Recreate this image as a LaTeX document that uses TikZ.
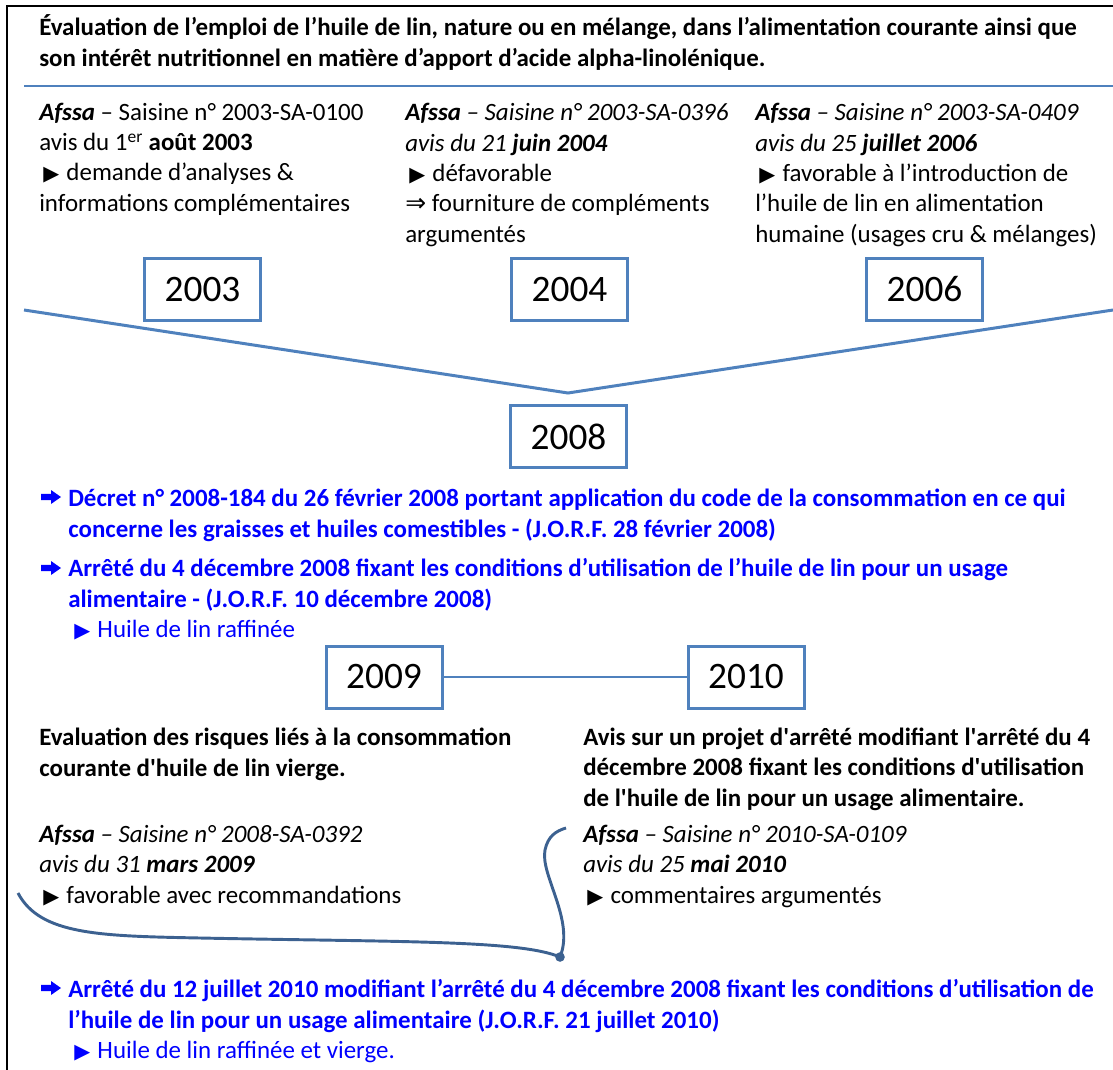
\documentclass[tikz,border=0pt]{standalone}
\usepackage{fontspec}
\setmainfont{Carlito}
\newfontfamily\symfont{DejaVu Sans}
\definecolor{boxblue}{HTML}{4F81BD}
\definecolor{bracedark}{HTML}{3C6190}
\definecolor{lawblue}{HTML}{0000FF}
\newcommand{\tri}{\kern3pt{\symfont\fontsize{15.5pt}{15pt}\selectfont ▶}\hspace{5.5pt}}
\newcommand{\sq}{\textquotesingle}

\begin{document}
\begin{tikzpicture}[
    x=0.75pt, y=-0.75pt,
    year/.style={
        rectangle,
        minimum width=87pt,
        minimum height=46.5pt,
        draw=boxblue,
        line width=2.25pt,
        fill=white,
        font=\fontsize{28pt}{30pt}\selectfont
    },
    txt/.style={
        anchor=base west,
        inner sep=0pt,
        align=left,
        font=\fontsize{18.7pt}{22.7pt}\selectfont
    },
    law/.style={
        txt,
        text=lawblue,
        font=\fontsize{18.7pt}{23pt}\selectfont\bfseries
    },
    lawmark/.pic={
        \fill[lawblue] (0,-3.2) -- (10,-3.2) -- (10,-7) -- (20,0) -- (10,7) -- (10,3.2) -- (0,3.2) -- cycle;
    }
]
\useasboundingbox (0,0) rectangle (1113,1070);

% Frame
\coordinate (fbl) at (7,1070);
\coordinate (ftl) at (7,6);
\coordinate (ftr) at (1113,6);
\draw[line width=1.5pt] (fbl) -- (ftl) -- (ftr);

% Title (anchor = last line)
\node[txt, font=\fontsize{18.7pt}{23.25pt}\selectfont\bfseries] (head) at (39,67) {Évaluation de l’emploi de l’huile de lin, nature ou en mélange, dans l’alimentation courante ainsi que\\son intérêt nutritionnel en matière d’apport d’acide alpha-linolénique.};
\coordinate (rulel) at (24,86);
\coordinate (ruler) at (1113,86);
\draw[boxblue, line width=2pt] (rulel) -- (ruler);

% Afssa opinions
\node[txt] (op2003) at (39,211) {\textbf{\textit{Afssa}} – Saisine n° 2003-SA-0100\\
avis du 1\textsuperscript{er} \textbf{août 2003}\\
\tri demande d’analyses \&\\
informations complémentaires};
\node[txt] (op2004) at (405,242) {\textbf{\textit{Afssa}} \textit{– Saisine n° 2003-SA-0396}\\
\textit{avis du 21 \textbf{juin 2004}}\\
\tri défavorable\\
{\symfont ⇒} fourniture de compléments\\
argumentés};
\node[txt] (op2006) at (755,242) {\textbf{\textit{Afssa}} \textit{– Saisine n° 2003-SA-0409}\\
\textit{avis du 25 \textbf{juillet 2006}}\\
\tri favorable à l’introduction de\\
l’huile de lin en alimentation\\
humaine (usages cru \& mélanges)};

% Funnel
\coordinate (vleft) at (24,310);
\coordinate (vtip) at (568,393);
\coordinate (vright) at (1113,310);
\draw[boxblue, line width=2.25pt] (vleft) -- (vtip) -- (vright);

% Years
\node[year] (y2003) at (202.5,289.5) {2003};
\node[year] (y2004) at (569.5,289.5) {2004};
\node[year] (y2006) at (924.5,289.5) {2006};
\node[year] (y2008) at (568.5,436.5) {2008};
\node[year] (y2009) at (384,677) {2009};
\node[year] (y2010) at (746,677) {2010};
\draw[boxblue, line width=0.9pt] (y2009) -- (y2010);

% Texts 2008
\pic at (41,497) {lawmark};
\node[law] (decret) at (68,537) {Décret n° 2008-184 du 26 février 2008 portant application du code de la consommation en ce qui\\concerne les graisses et huiles comestibles - (J.O.R.F. 28 février 2008)};
\pic at (41,568) {lawmark};
\node[law] (arrete1) at (68,607) {Arrêté du 4 décembre 2008 fixant les conditions d’utilisation de l’huile de lin pour un usage\\alimentaire - (J.O.R.F. 10 décembre 2008)};
\node[txt, text=lawblue] (raff) at (70,637) {\tri Huile de lin raffinée};

% Texts 2009 / 2010
\node[txt, font=\fontsize{18.7pt}{22.7pt}\selectfont\bfseries] (risk) at (39,776) {Evaluation des risques liés à la consommation\\courante d\sq huile de lin vierge.};
\node[txt, font=\fontsize{18.7pt}{22.7pt}\selectfont\bfseries] (projet) at (583,806) {Avis sur un projet d\sq arrêté modifiant l\sq arrêté du 4\\décembre 2008 fixant les conditions d\sq utilisation\\de l\sq huile de lin pour un usage alimentaire.};
\node[txt] (op2009) at (39,903) {\textbf{\textit{Afssa}} \textit{– Saisine n° 2008-SA-0392}\\
\textit{avis du 31 \textbf{mars 2009}}\\
\tri favorable avec recommandations};
\node[txt] (op2010) at (583,903) {\textbf{\textit{Afssa}} \textit{– Saisine n° 2010-SA-0109}\\
\textit{avis du 25 \textbf{mai 2010}}\\
\tri commentaires argumentés};

% Bracket
\coordinate (brl) at (18,893);
\coordinate (brj) at (560,957);
\coordinate (brr) at (566,828);
\draw[bracedark, line width=2.2pt] (brl) .. controls (40,935) and (100,936) .. (200,938)
    .. controls (400,942) and (520,940) .. (brj)
    .. controls (575,920) and (540,875) .. (545,850)
    .. controls (548,836) and (556,831) .. (brr);
\fill[bracedark] (brj) circle (3.6pt);

% Texts final
\pic at (41,988) {lawmark};
\node[law] (arrete2) at (68,1028) {Arrêté du 12 juillet 2010 modifiant l’arrêté du 4 décembre 2008 fixant les conditions d’utilisation de\\l’huile de lin pour un usage alimentaire (J.O.R.F. 21 juillet 2010)};
\node[txt, text=lawblue] (vierge) at (70,1058) {\tri Huile de lin raffinée et vierge.};

\end{tikzpicture}
\end{document}
